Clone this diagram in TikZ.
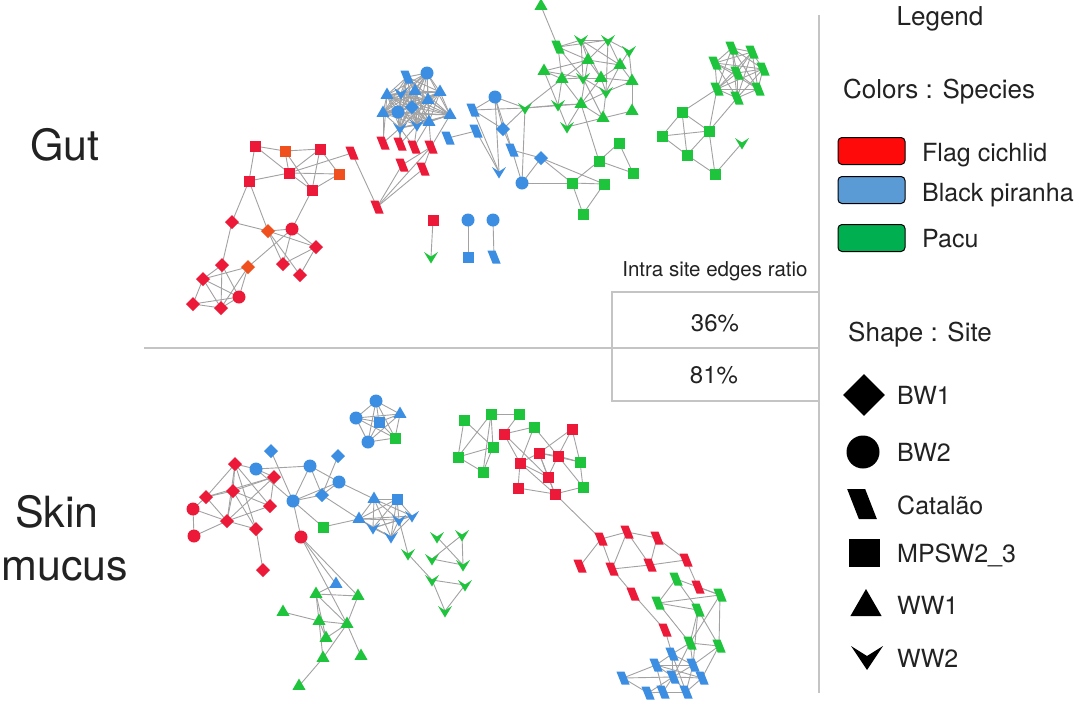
\documentclass[tikz,border=0pt]{standalone}
\usepackage{fontspec}
\setmainfont{TeX Gyre Heros}
\usetikzlibrary{shapes.geometric,calc}
\pgfdeclarelayer{back}
\pgfdeclarelayer{bg}
\pgfsetlayers{back,bg,main}
\definecolor{cR}{HTML}{EC1A38}
\definecolor{cO}{HTML}{F0501E}
\definecolor{cB}{HTML}{3B8EE2}
\definecolor{cG}{HTML}{1EC43C}
\definecolor{edgec}{HTML}{A2A2A2}
\definecolor{framec}{HTML}{C4C4C4}
\definecolor{txt}{HTML}{222222}
\definecolor{lR}{HTML}{FF0A0A}
\definecolor{lB}{HTML}{5B9BD5}
\definecolor{lG}{HTML}{00B050}
\tikzset{
 nbase/.style={inner sep=0pt, outer sep=0pt},
 nsq/.style={nbase, rectangle, fill=#1, minimum size=11pt},
 nci/.style={nbase, circle, fill=#1, minimum size=13pt},
 ndi/.style={nbase, diamond, fill=#1, minimum size=14pt},
 ntr/.style={nbase, regular polygon, regular polygon sides=3, fill=#1, minimum size=15pt},
 nca/.style={nbase, rectangle, fill=#1, minimum width=8pt, minimum height=13pt, xslant=-0.4},
 nvv/.style={nbase, circle, minimum size=18pt, path picture={\fill[#1, shift={(path picture bounding box.center)}] (-7pt,5pt) -- (0pt,0.5pt) -- (7pt,5pt) -- (0pt,-6.5pt) -- cycle;}},
 lnk/.style={draw=edgec, line width=0.9pt},
 frame/.style={draw=framec, line width=1.1pt},
 bigtxt/.style={text=txt, font=\fontsize{43}{48}\selectfont, inner sep=0pt},
 headtxt/.style={text=txt, font=\fontsize{26}{30}\selectfont, inner sep=0pt},
 labtxt/.style={text=txt, font=\fontsize{25}{29}\selectfont, inner sep=0pt, anchor=base west},
 tabtxt/.style={text=txt, font=\fontsize{24}{28}\selectfont, inner sep=0pt, anchor=base},
 colbox/.style={draw=black, line width=1pt, rounded corners=4pt, fill=#1, minimum width=67pt, minimum height=27pt, inner sep=0pt},
 lgshape/.style={fill=black, inner sep=0pt}
}
\newcommand\N[4]{\node[#1=#2] (#3) at (#4) {};}
\newcommand\E[1]{\foreach \a/\b in {#1} {\draw[lnk] (\a.center) -- (\b.center);}}
\newcommand\Mesh[2]{\foreach \i in {1,...,#2}{\foreach \j in {1,...,#2}{\ifnum\i<\j \draw[lnk] (#1\i.center) -- (#1\j.center);\fi}}}
\begin{document}
\begin{tikzpicture}[x=1pt,y=-1pt]
\useasboundingbox (0,0) rectangle (1080,705);
\begin{pgfonlayer}{back}
\fill[white] (0,0) rectangle (1080,705);
\end{pgfonlayer}
% frame lines
\draw[frame] (144,348) -- (819,348);
\draw[frame] (819,15) -- (819,693);
\draw[frame] (612,292) rectangle (819,401);
% labels
\node[bigtxt, anchor=base] (gut) at (65,160) {Gut};
\node[bigtxt, anchor=base] (skin) at (57,527) {Skin};
\node[bigtxt, anchor=base] (mucus) at (65,580) {mucus};
\node[text=txt, font=\fontsize{20.5}{24}\selectfont, inner sep=0pt, anchor=base] (ratio) at (715,276) {Intra site edges ratio};
\node[tabtxt] (p36) at (715,331) {36\%};
\node[tabtxt] (p81) at (714,383) {81\%};
% legend
\node[headtxt, anchor=base] (legend) at (940,25) {Legend};
\node[headtxt, anchor=base west] (colors) at (843,98) {Colors : Species};
\node[colbox=lR] (boxR) at (871.5,151) {};
\node[colbox=lB] (boxB) at (871.5,190) {};
\node[colbox=lG] (boxG) at (871.5,238) {};
\node[labtxt] (tR) at (922,161) {Flag cichlid};
\node[labtxt] (tB) at (922,201) {Black piranha};
\node[labtxt] (tG) at (922,247) {Pacu};
\node[headtxt, anchor=base west] (shapes) at (848,341) {Shape : Site};
\node[lgshape, diamond, minimum size=42pt] (sBW1) at (864,395) {};
\node[lgshape, circle, minimum size=33pt] (sBW2) at (863,452) {};
\node[lgshape, rectangle, minimum width=18pt, minimum height=30pt, xslant=-0.39] (sCat) at (862,504) {};
\node[lgshape, rectangle, minimum width=31pt, minimum height=28pt] (sMP) at (864,553) {};
\node[lgshape, regular polygon, regular polygon sides=3, minimum size=36pt] (sWW1) at (866,607) {};
\node[nbase, circle, minimum size=40pt, path picture={\fill[black, shift={(path picture bounding box.center)}] (-16pt,11pt) -- (0pt,1pt) -- (16pt,11pt) -- (0pt,-13pt) -- cycle;}] (sWW2) at (867,657) {};
\node[labtxt] (lBW1) at (897,404) {BW1};
\node[labtxt] (lBW2) at (897,461) {BW2};
\node[labtxt] (lCat) at (897,514) {Catalão};
\node[labtxt] (lMP) at (897,562) {MPSW2\_3};
\node[labtxt] (lWW1) at (897,614) {WW1};
\node[labtxt] (lWW2) at (897,667) {WW2};
% ===== GUT =====
\N{nsq}{cR}{a1}{255,146} \N{nsq}{cO}{a2}{285,151} \N{nsq}{cR}{a3}{320,149}
\N{nca}{cR}{a4}{352,153} \N{nsq}{cR}{a5}{289,173} \N{nsq}{cO}{a6}{339,174}
\N{nsq}{cR}{a7}{249,181} \N{nsq}{cR}{a8}{312,190} \N{nca}{cR}{a9}{377,207}
\N{ndi}{cR}{b1}{232,222} \N{ndi}{cO}{b2}{268,231} \N{nci}{cR}{b3}{292,229}
\N{ndi}{cR}{b4}{316,247} \N{ndi}{cR}{b5}{283,264} \N{ndi}{cR}{b6}{300,275}
\N{ndi}{cR}{b7}{222,265} \N{ndi}{cO}{b8}{248,267} \N{ndi}{cR}{b9}{203,279}
\N{nci}{cR}{b10}{239,297} \N{ndi}{cR}{b11}{193,304} \N{ndi}{cR}{b12}{221,308}
\N{nca}{cR}{r1}{383,143} \N{nca}{cR}{r2}{400,144} \N{nca}{cR}{r3}{414,147}
\N{nca}{cR}{r4}{431,147} \N{nca}{cR}{r5}{402,165} \N{nca}{cR}{r6}{423,169}
\N{nca}{cB}{c1}{407,77} \N{nci}{cB}{c2}{427,73} \N{ntr}{cB}{c3}{387,95}
\N{nvv}{cB}{c4}{401,93} \N{ntr}{cB}{c5}{415,91} \N{ntr}{cB}{c6}{440,92}
\N{ntr}{cB}{c7}{383,113} \N{nci}{cB}{c8}{398,112} \N{ndi}{cB}{c9}{412,107}
\N{ntr}{cB}{c10}{428,100} \N{ntr}{cB}{c11}{450,115} \N{ntr}{cB}{c12}{429,122}
\N{nvv}{cB}{c13}{400,128} \N{nvv}{cB}{c14}{417,125} \N{nca}{cB}{c15}{448,138}
\N{nca}{cB}{d1}{473,110} \N{nci}{cB}{d2}{495,97} \N{nca}{cB}{d3}{476,131}
\N{ndi}{cB}{d4}{503,129} \N{nca}{cB}{d5}{512,150} \N{nvv}{cB}{d6}{499,172}
\N{nci}{cB}{d7}{522,183} \N{ndi}{cB}{d8}{541,158}
\N{ntr}{cG}{e1}{541,6} \N{nca}{cG}{e2}{558,47} \N{nvv}{cG}{e3}{581,40}
\N{nvv}{cG}{e4}{608,40} \N{nvv}{cG}{e5}{629,51} \N{ntr}{cG}{e6}{588,60}
\N{ntr}{cG}{e7}{620,65} \N{ntr}{cG}{e8}{544,71} \N{ntr}{cG}{e9}{562,79}
\N{nvv}{cG}{e10}{583,78} \N{ntr}{cG}{e11}{601,78} \N{ntr}{cG}{e12}{632,81}
\N{nvv}{cG}{e13}{606,92} \N{nvv}{cG}{e14}{525,108} \N{nvv}{cG}{e15}{558,105}
\N{ntr}{cG}{e16}{581,104} \N{ntr}{cG}{e17}{632,111} \N{ntr}{cG}{e18}{603,118}
\N{nvv}{cG}{e19}{567,127}
\N{nsq}{cG}{f1}{572,183} \N{nsq}{cG}{f2}{599,161} \N{nsq}{cG}{f3}{619,143}
\N{nsq}{cG}{f4}{633,173} \N{nsq}{cG}{f5}{604,184} \N{nsq}{cG}{f6}{583,214}
\N{nca}{cG}{g1}{732,48} \N{nca}{cG}{g2}{752,52} \N{nca}{cG}{g3}{715,63}
\N{nca}{cG}{g4}{763,69} \N{nca}{cG}{g5}{737,73} \N{nca}{cG}{g6}{717,89}
\N{nca}{cG}{g7}{758,89} \N{nca}{cG}{g8}{737,98}
\N{nsq}{cG}{h1}{682,112} \N{nsq}{cG}{h2}{662,136} \N{nsq}{cG}{h3}{709,131}
\N{nsq}{cG}{h4}{687,155} \N{nsq}{cG}{h5}{715,174} \N{nvv}{cG}{h6}{742,143}
\N{nsq}{cR}{i1}{433,220} \N{nvv}{cG}{i2}{431,257}
\N{nci}{cB}{i3}{468,220} \N{nsq}{cB}{i4}{468,257}
\N{nci}{cB}{i5}{493,220} \N{nca}{cB}{i6}{494,257}
% ===== SKIN =====
\N{nci}{cB}{k1}{376,401} \N{nci}{cB}{k2}{356,418} \N{nsq}{cB}{k3}{379,422}
\N{ntr}{cB}{k4}{400,414} \N{nci}{cB}{k5}{368,442} \N{nsq}{cG}{k6}{395,438}
\N{ndi}{cB}{m1}{271,451} \N{ndi}{cB}{m2}{338,456} \N{ndi}{cR}{m3}{235,464}
\N{nci}{cB}{m4}{256,469} \N{nci}{cB}{m5}{310,466} \N{ndi}{cR}{m6}{274,477}
\N{nci}{cB}{m7}{339,482} \N{ndi}{cR}{m8}{206,497} \N{ndi}{cR}{m9}{233,491}
\N{ndi}{cB}{m10}{322,495} \N{nci}{cR}{m11}{193,509} \N{ndi}{cR}{m12}{270,506}
\N{nci}{cB}{m13}{293,501} \N{ndi}{cR}{m14}{227,521} \N{ndi}{cR}{m15}{256,529}
\N{nsq}{cG}{m16}{323,527} \N{nci}{cR}{m17}{194,536} \N{nci}{cR}{m18}{301,537}
\N{ndi}{cR}{m19}{263,570}
\N{ntr}{cB}{n1}{374,499} \N{nsq}{cB}{n2}{397,499} \N{ntr}{cB}{n3}{359,519}
\N{nvv}{cB}{n4}{373,528} \N{nvv}{cB}{n5}{399,520} \N{nvv}{cB}{n6}{412,516}
\N{nvv}{cB}{n7}{391,537}
\N{ntr}{cB}{p1}{336,584} \N{ntr}{cG}{p2}{316,594} \N{ntr}{cG}{p3}{358,596}
\N{ntr}{cG}{p4}{283,612} \N{ntr}{cG}{p5}{319,621} \N{ntr}{cG}{p6}{347,624}
\N{ntr}{cG}{p7}{326,638} \N{ntr}{cG}{p8}{323,658} \N{ntr}{cG}{p9}{361,656}
\N{ntr}{cG}{p10}{299,686}
\N{nvv}{cG}{q1}{408,554} \N{nvv}{cG}{q2}{437,537} \N{nvv}{cG}{q3}{462,535}
\N{nvv}{cG}{q4}{432,559} \N{nvv}{cG}{q5}{463,565} \N{nvv}{cG}{q6}{432,580}
\N{nvv}{cG}{q7}{465,585} \N{nvv}{cG}{q8}{445,611}
\N{nsq}{cG}{s1}{464,420} \N{nsq}{cG}{s2}{491,414} \N{nsq}{cG}{s3}{519,414}
\N{nsq}{cG}{s4}{534,427} \N{nsq}{cR}{s5}{504,434} \N{nsq}{cR}{s6}{572,429}
\N{nsq}{cG}{s7}{493,447} \N{nsq}{cG}{s8}{458,457} \N{nsq}{cR}{s9}{539,453}
\N{nsq}{cR}{s10}{558,456} \N{nsq}{cR}{s11}{520,463} \N{nsq}{cG}{s12}{580,462}
\N{nsq}{cR}{s13}{548,477} \N{nsq}{cG}{s14}{483,472} \N{nsq}{cR}{s15}{518,488}
\N{nsq}{cR}{s16}{555,494} \N{nsq}{cG}{s17}{583,487}
\N{nca}{cR}{t1}{601,539} \N{nca}{cR}{t2}{627,532} \N{nca}{cR}{t3}{657,538}
\N{nca}{cR}{t4}{580,566} \N{nca}{cR}{t5}{612,569} \N{nca}{cR}{t6}{650,565}
\N{nca}{cR}{t7}{686,560} \N{nca}{cR}{t8}{633,594} \N{nca}{cR}{t9}{698,587}
\N{nca}{cR}{t10}{665,630}
\N{nca}{cG}{u1}{676,579} \N{nca}{cG}{u2}{720,595} \N{nca}{cG}{u3}{658,603}
\N{nca}{cG}{u4}{698,610} \N{nca}{cG}{u5}{690,643} \N{nca}{cG}{u6}{719,646}
\N{nca}{cB}{v1}{672,654} \N{nca}{cB}{v2}{656,665} \N{nca}{cB}{v3}{693,665}
\N{nca}{cB}{v4}{623,678} \N{nca}{cB}{v5}{673,677} \N{nca}{cB}{v6}{702,678}
\N{nca}{cB}{v7}{648,693} \N{nca}{cB}{v8}{663,692} \N{nca}{cB}{v9}{686,692}
% ===== EDGES =====
\begin{pgfonlayer}{bg}
\E{a1/a2,a1/a7,a1/a5,a2/a3,a2/a5,a2/a8,a3/a5,a3/a6,a3/a8,a5/a7,a5/a6,a5/a8,a6/a8,a5/a4,a7/b1,a7/b2,a8/b3,a4/a9,
b1/b2,b1/b7,b2/b3,b2/b5,b2/b6,b2/b4,b3/b4,b3/b8,b3/b5,b4/b6,b4/b5,b7/b9,b7/b10,b7/b12,b8/b10,b8/b9,b8/b12,b9/b11,b9/b10,b9/b12,b11/b12,b10/b12,b11/b10}
\E{a9/r4,a9/r6,a9/r5,r5/r4,r6/r4,r1/c7,r1/c13,r2/c13,r2/c8,r3/c14,r3/c12,r4/c12,r4/c11,r1/c3,r2/c14,r3/c13}
\Mesh{c}{14}
\E{c15/d3,d1/d2,d1/d4,d1/d6,d2/d4,d2/d6,d2/d5,d3/d6,d4/d5,d5/d7,d5/d8,d7/d8,d2/e14,e14/d4,e14/d7,e14/d1}
\E{e1/e2,e2/e3,e2/e4,e2/e6,e2/e9,e2/e10,e3/e4,e3/e6,e3/e11,e3/e10,e4/e5,e4/e7,e4/e6,e4/e13,e5/e7,e5/e12,e6/e8,e6/e9,e6/e11,e6/e7,e6/e16,e7/e11,e7/e12,e7/e13,e8/e9,e8/e10,e9/e10,e9/e15,e9/e16,e10/e11,e10/e13,e10/e18,e11/e12,e11/e13,e11/e16,e12/e17,e12/e13,e13/e18,e13/e16,e14/e15,e14/e9,e14/e16,e15/e16,e15/e19,e16/e18,e16/e19,e18/e17,e19/e18,e3/e7,e8/e15}
\E{e16/f2,d8/f1,d7/f1,d8/f5,f1/f5,f1/f6,f5/f6,f2/f1,f2/f3,f3/f4,f2/f4}
\Mesh{g}{8}
\E{g6/h1,g6/h3,g8/h3,h1/h2,h1/h3,h1/h4,h2/h3,h2/h4,h3/h4,h3/h5,h4/h5,h5/h6}
\E{i1/i2,i3/i4,i5/i6}
\Mesh{k}{6}
\E{m3/m8,m3/m9,m3/m14,m3/m15,m3/m12,m8/m9,m8/m11,m8/m14,m9/m6,m9/m12,m9/m14,m9/m15,m11/m17,m11/m14,m17/m14,m14/m12,m14/m15,m6/m12,m6/m14,m6/m8,m15/m19,m4/m6,m4/m5,m4/m13,m4/m3,m1/m13,m5/m13,m5/m10,m5/m7,m2/m10,m7/m10,m7/m13,m10/m13,m13/m16,m13/m18,m7/n1,m10/n3,m16/n3,m18/p1,m18/p3,m18/p6}
\Mesh{n}{7}
\E{n5/q1,q1/q6,q6/q7,q6/q8,q7/q8,q2/q5,q3/q5,q3/q4,q4/q5}
\E{p1/p2,p2/p5,p2/p6,p2/p7,p2/p3,p4/p5,p5/p6,p5/p7,p5/p8,p6/p3,p6/p7,p6/p9,p6/p8,p8/p10}
\E{s1/s7,s1/s8,s2/s3,s2/s8,s2/s7,s2/s14,s8/s7,s8/s14,s7/s14,s3/s5,s5/s4,s5/s11,s5/s13,s4/s11,s4/s10,s6/s10,s6/s9,s6/s12,s9/s10,s9/s11,s9/s13,s9/s16,s9/s12,s10/s12,s10/s13,s10/s17,s11/s13,s11/s15,s13/s16,s15/s16,s16/s17,s11/s16,s12/s17}
\E{s16/t1,t1/t4,t1/t2,t1/t5,t2/t3,t2/t5,t2/t6,t3/t6,t3/t7,t5/t6,t6/t7,t5/t8,t7/t9,t8/t10,t9/u2,u1/u3,u1/u2,u1/u4,u3/u2,u3/u4,u3/u5,u4/u5,u4/u6,u2/u5,u2/u6,u5/u6,t10/v1,u5/v1,u5/v3,u5/v5,u6/v3,u6/v6,u4/v3}
\E{v1/v2,v1/v3,v1/v5,v2/v4,v2/v5,v2/v8,v2/v3,v3/v6,v3/v5,v3/v9,v4/v7,v4/v5,v5/v8,v5/v9,v5/v6,v6/v9,v7/v8,v8/v9,v2/v6,v1/v9,v7/v5}
\end{pgfonlayer}
\end{tikzpicture}
\end{document}
